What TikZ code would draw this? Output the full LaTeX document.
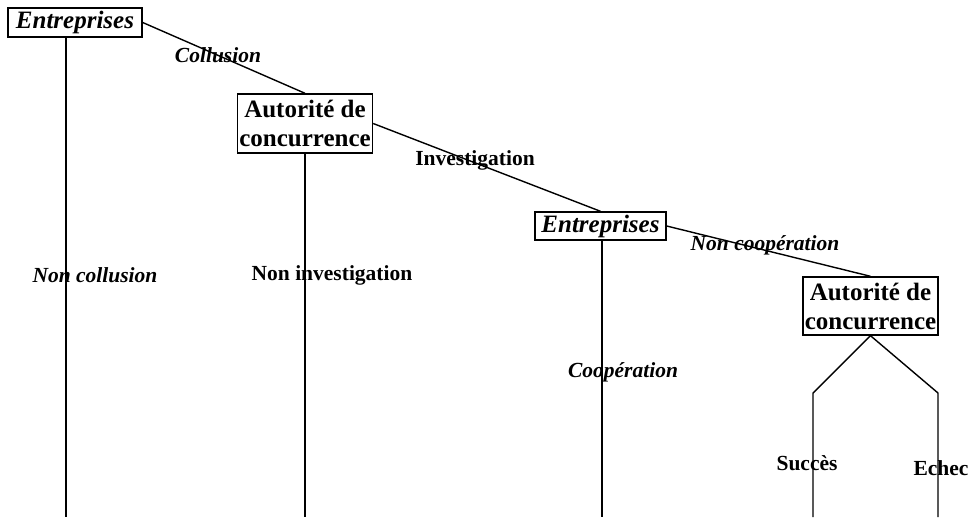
\documentclass[tikz,border=0pt]{standalone}
\usepackage{fontspec}
\setmainfont{Liberation Serif}
\begin{document}
\begin{tikzpicture}[x=1pt,y=-1pt,
  line width=1.4pt,
  player/.style={draw, line width=1.4pt, inner sep=0pt, align=center,
    font=\fontsize{25}{29}\selectfont\bfseries},
  lab/.style={inner sep=0pt, font=\fontsize{21.5}{24}\selectfont\bfseries},
  ilab/.style={lab, font=\fontsize{21.5}{24}\selectfont\bfseries\itshape}]
\useasboundingbox (0,0) rectangle (971,517);
\node[player, minimum width=134, minimum height=29] (n1) at (75,22.5) {\itshape Entreprises};
\node[player, minimum width=135, minimum height=59] (n2) at (305,123.5) {Autorité de\\concurrence};
\node[player, minimum width=131, minimum height=28] (n3) at (600.5,226) {\itshape Entreprises};
\node[player, minimum width=135, minimum height=58] (n4) at (870.5,306) {Autorité de\\concurrence};

\coordinate (e1) at (66,517);
\coordinate (e2) at (305,517);
\coordinate (e3) at (602,517);
\coordinate (k1) at (813,393);
\coordinate (k2) at (938,393);
\coordinate (e4) at (813,517);
\coordinate (e5) at (938,517);

\draw (n1.east) -- (n2.north);
\draw (n2.east) -- (n3.north);
\draw (n3.east) -- (n4.north);
\draw ([xshift=-9pt]n1.south) -- (e1);
\draw (n2.south) -- (e2);
\draw ([xshift=1.5pt]n3.south) -- (e3);
\draw (n4.south) -- (k1) -- (e4);
\draw (n4.south) -- (k2) -- (e5);

\node[ilab] (l1) at (218,55) {Collusion};
\node[lab] (l2) at (475,160) {Investigation};
\node[ilab] (l3) at (765,245) {Non coopération};
\node[ilab] (l4) at (95,275) {Non collusion};
\node[lab] (l5) at (332,275) {Non investigation};
\node[ilab] (l6) at (623,372) {Coopération};
\node[lab] (l7) at (807,463) {Succès};
\node[lab] (l8) at (941,468) {Echec};
\end{tikzpicture}
\end{document}
